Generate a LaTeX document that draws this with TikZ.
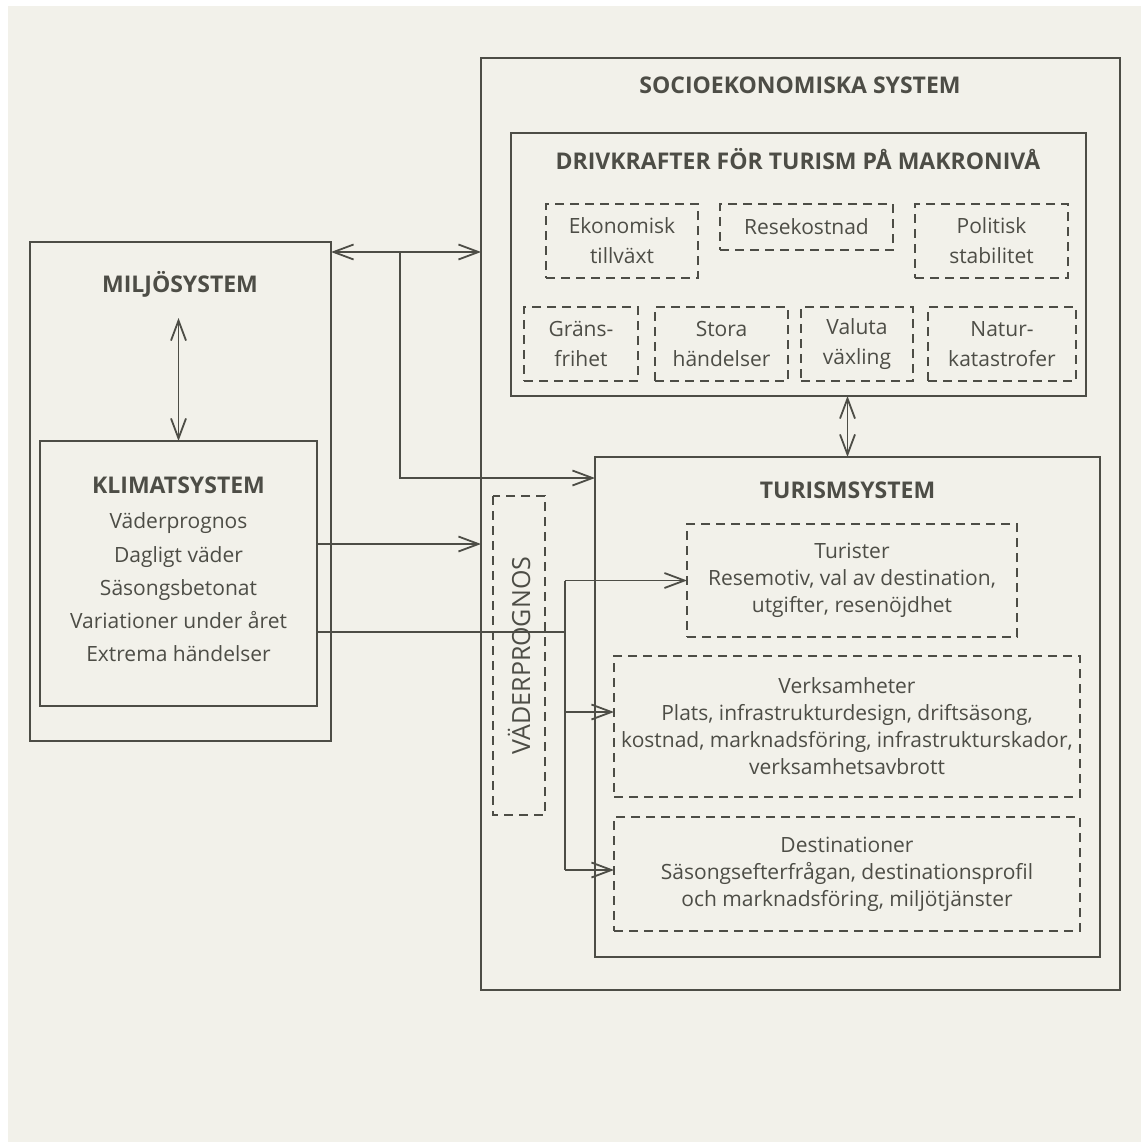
\documentclass[tikz,border=0pt]{standalone}
\usepackage{fontspec}
\setmainfont{Open Sans}
\usetikzlibrary{arrows.meta, positioning}
\definecolor{Paper}{HTML}{F2F1EA}
\definecolor{Ink}  {HTML}{4D4D46}
\tikzset{
  sys/.style={draw=Ink, line width=2.2pt, inner sep=0pt, outer sep=0pt},
  arr/.style={-{Straight Barb[length=20pt,width=15pt]}, line width=1.8pt, draw=Ink}
}

\begin{document}
\begin{tikzpicture}[
  x=1pt, y=-1pt,
  drv/.style={draw=Ink, line width=2.9pt, dash pattern=on 9pt off 6pt,
              inner sep=0pt, outer sep=0pt, align=center, text=Ink,
              font=\fontsize{21}{30}\selectfont},
  tur/.style={drv, font=\fontsize{21}{27}\selectfont},
  ttl/.style={anchor=base, text=Ink, font=\fontsize{23}{28}\selectfont\bfseries},
  biarr/.style={arr, {Straight Barb[length=20pt,width=15pt]}-{Straight Barb[length=20pt,width=15pt]}},
  bus/.style={line width=1.8pt, draw=Ink}
]
  \useasboundingbox (0,0) rectangle (1141,1142);
  \fill[white] (0,0) rectangle (1141,1142);
  \fill[Paper] (8,6) rectangle (1141,1142);

  % systems
  \node[sys, minimum width=301pt, minimum height=499pt] (Miljo)  at (180.5,491.5) {};
  \node[sys, minimum width=277pt, minimum height=265pt] (Klimat) at (178.5,573.5) {};
  \node[sys, minimum width=639pt, minimum height=932pt] (Socio)  at (800.5,524)   {};
  \node[sys, minimum width=575pt, minimum height=263pt] (Drivk)  at (798.5,264.5) {};
  \node[sys, minimum width=505pt, minimum height=500pt] (Turism) at (847.5,707)   {};

  \node[ttl] (SocioT)  at (800,94)    {SOCIOEKONOMISKA SYSTEM};
  \node[ttl] (DrivkT)  at (798,170)   {DRIVKRAFTER FÖR TURISM PÅ MAKRONIVÅ};
  \node[ttl] (MiljoT)  at (180,292)   {MILJÖSYSTEM};
  \node[ttl] (KlimatT) at (178.5,493) {KLIMATSYSTEM};
  \node[ttl] (TurismT) at (847.5,498) {TURISMSYSTEM};
  \node[align=center, text=Ink, font=\fontsize{21}{33.3}\selectfont] (KlimatL) at (178.5,587.5)
    {Väderprognos\\Dagligt väder\\Säsongsbetonat\\Variationer under året\\Extrema händelser};

  % drivkrafter
  \node[drv, minimum width=152pt, minimum height=74pt] (Ekon) at (622,241)   {Ekonomisk\\tillväxt};
  \node[drv, minimum width=173pt, minimum height=46pt] (Rese) at (806.5,227) {Resekostnad};
  \node[drv, minimum width=153pt, minimum height=74pt] (Poli) at (991.5,241) {Politisk\\stabilitet};
  \node[drv, minimum width=114pt, minimum height=74pt] (Grans) at (581,344)   {Gräns-\\frihet};
  \node[drv, minimum width=133pt, minimum height=74pt] (Stora) at (721.5,344) {Stora\\händelser};
  \node[drv, minimum width=112pt, minimum height=74pt] (Valuta) at (857,344)  {Valuta\\växling};
  \node[drv, minimum width=148pt, minimum height=74pt] (Natur) at (1002,344)  {Natur-\\katastrofer};

  % turism
  \node[tur, minimum width=330pt, minimum height=113pt] (Turister) at (852,580.5)
    {Turister\\Resemotiv, val av destination,\\utgifter, resenöjdhet};
  \node[tur, minimum width=466pt, minimum height=141pt] (Verks) at (847,726.5)
    {Verksamheter\\Plats, infrastrukturdesign, driftsäsong,\\kostnad, marknadsföring, infrastrukturskador,\\verksamhetsavbrott};
  \node[tur, minimum width=466pt, minimum height=114pt] (Dest) at (847,874)
    {Destinationer\\Säsongsefterfrågan, destinationsprofil\\och marknadsföring, miljötjänster};

  \node[drv, rotate=90, minimum width=319pt, minimum height=52pt,
        font=\fontsize{25}{30}\selectfont] (Vader) at (519,655.5) {VÄDERPROGNOS};

  % connectors
  \coordinate (jn) at (400,252);
  \coordinate (tj) at (400,478);
  \draw[biarr] (Miljo.east |- jn) -- (Socio.west |- jn);
  \draw[arr] (jn) -- (tj) -- (Turism.west |- tj);
  \coordinate (mtop) at (178.5,318);
  \draw[biarr] (mtop) -- (Klimat.north);
  \draw[biarr] (Drivk.south -| Turism.north) -- (Turism.north);
  \coordinate (kv) at (0,544);
  \draw[arr] (Klimat.east |- kv) -- (Socio.west |- kv);
  \coordinate (bj) at (565,632);
  \coordinate (b2) at (565,712);
  \coordinate (b3) at (565,870);
  \draw[bus] (Klimat.east |- bj) -- (bj);
  \draw[bus] (Turister.west -| bj) -- (b3);
  \draw[arr] (Turister.west -| bj) -- (Turister.west);
  \draw[arr] (b2) -- (Verks.west |- b2);
  \draw[arr] (b3) -- (Dest.west |- b3);
\end{tikzpicture}
\end{document}
